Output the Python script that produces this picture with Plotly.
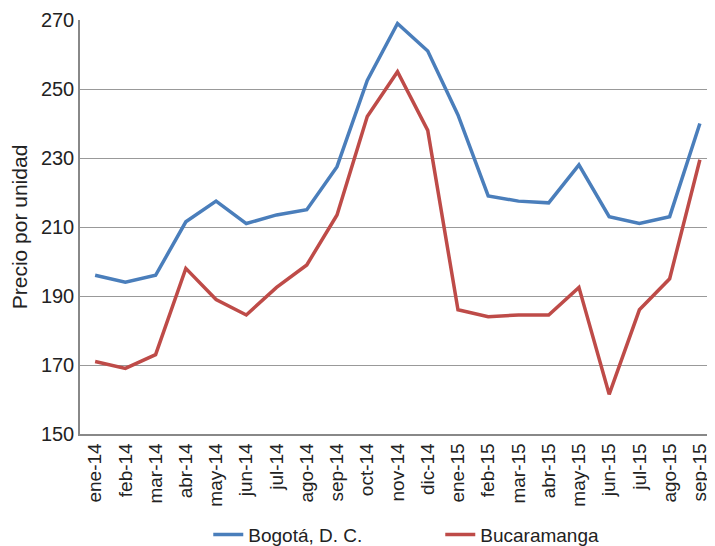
import plotly.graph_objects as go

meses = ["ene-14", "feb-14", "mar-14", "abr-14", "may-14", "jun-14", "jul-14",
         "ago-14", "sep-14", "oct-14", "nov-14", "dic-14", "ene-15", "feb-15",
         "mar-15", "abr-15", "may-15", "jun-15", "jul-15", "ago-15", "sep-15"]

bogota = [196, 194, 196, 211.5, 217.5, 211, 213.5, 215, 227.5, 252.5, 269, 261,
          242.5, 219, 217.5, 217, 228, 213, 211, 213, 240]

bucaramanga = [171, 169, 173, 198, 189, 184.5, 192.5, 199, 213.5, 242, 255, 238,
               186, 184, 184.5, 184.5, 192.5, 161.5, 186, 195, 229.5]

fig = go.Figure()
fig.add_trace(go.Scatter(x=meses, y=bogota, mode="lines", name="Bogotá, D. C.",
                         line=dict(color="#4a7ebb", width=3.5)))
fig.add_trace(go.Scatter(x=meses, y=bucaramanga, mode="lines", name="Bucaramanga",
                         line=dict(color="#be4b48", width=3.5)))

# page body adds an 8px margin, so the figure is 8px smaller than the window
fig.update_layout(
    width=707, height=538,
    margin=dict(l=72, r=0, t=12, b=112, autoexpand=False),
    plot_bgcolor="white", paper_bgcolor="white",
    font=dict(family="Liberation Sans, Arial", color="#222222", size=20),
    showlegend=True,
    legend=dict(orientation="h", x=0.202, xanchor="left", y=-0.243, yanchor="middle",
                font=dict(size=19), entrywidth=187, entrywidthmode="pixels"),
    xaxis=dict(tickangle=-90, showgrid=False, showline=True, linecolor="#888888",
               linewidth=1.5, ticks="", tickfont=dict(size=19), range=[-0.5, 20.5],
               automargin=False),
    yaxis=dict(range=[150, 270], tick0=150, dtick=20, showgrid=True, gridcolor="#999999",
               gridwidth=1.2, showline=True, linecolor="#888888", linewidth=1.5,
               zeroline=False, tickfont=dict(size=20), ticks="", automargin=False,
               title=dict(text="Precio por unidad", font=dict(size=21), standoff=10)),
)

fig.write_html("out.html")
